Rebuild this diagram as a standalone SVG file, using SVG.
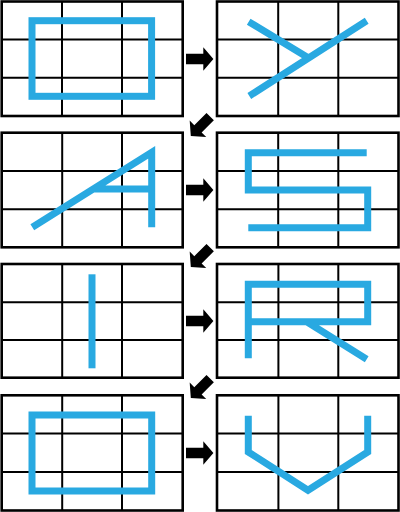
<svg xmlns="http://www.w3.org/2000/svg" xmlns:xlink="http://www.w3.org/1999/xlink" width="400" height="512" viewBox="0 0 400 512">
  <style>
    .frame { fill: #ffffff; stroke: #000000; stroke-width: 2.6; }
    .grid { stroke: #000000; stroke-width: 2; fill: none; }
    .glyph { fill: none; stroke: #29a9e1; stroke-width: 7; stroke-linecap: butt; stroke-linejoin: miter; stroke-miterlimit: 6; }
    .arrow { fill: #000000; stroke: none; }
  </style>
  <defs>
    <path id="arr" d="M-13.7,-5.2 H3.6 V-11.7 L13.7,0 L3.6,11.7 V5.2 H-13.7 Z"/>
  </defs>
  <rect width="400" height="512" fill="#ffffff"/>

  <!-- Panel 1: rectangle -->
  <g id="panel1">
    <rect class="frame" x="1.7" y="1.5" width="181" height="114.5"/>
    <path class="grid" d="M62,1.5 V116 M122,1.5 V116 M1.7,39.6 H182.7 M1.7,77.7 H182.7"/>
    <rect class="glyph" x="32" y="20.7" width="119.6" height="75.6"/>
  </g>

  <!-- Panel 2: Y -->
  <g id="panel2">
    <rect class="frame" x="217" y="1.5" width="181.5" height="114.5"/>
    <path class="grid" d="M278.2,1.5 V116 M338.3,1.5 V116 M217,39.6 H398.5 M217,77.7 H398.5"/>
    <path class="glyph" d="M248.7,21.7 L308.6,57.9 M249.3,96 L366.7,20.7"/>
  </g>

  <!-- Panel 3: A -->
  <g id="panel3">
    <rect class="frame" x="1.7" y="132.7" width="181" height="114.6"/>
    <path class="grid" d="M62.2,132.7 V247.3 M122,132.7 V247.3 M1.7,171 H182.7 M1.7,209.2 H182.7"/>
    <path class="glyph" d="M32.3,227.3 L151.7,152.4 L151.7,227.3 M94,189 H151.7"/>
  </g>

  <!-- Panel 4: S -->
  <g id="panel4">
    <rect class="frame" x="217" y="132.7" width="181.5" height="114.6"/>
    <path class="grid" d="M278.2,132.7 V247.3 M338.3,132.7 V247.3 M217,171 H398.5 M217,209.2 H398.5"/>
    <path class="glyph" d="M366.7,152.7 H248.3 V190 H367.7 V227.7 H248.3"/>
  </g>

  <!-- Panel 5: I -->
  <g id="panel5">
    <rect class="frame" x="1.7" y="264" width="181" height="113.7"/>
    <path class="grid" d="M62.2,264 V377.7 M122,264 V377.7 M1.7,302.2 H182.7 M1.7,340 H182.7"/>
    <path class="glyph" d="M92,274.3 V368.3"/>
  </g>

  <!-- Panel 6: R -->
  <g id="panel6">
    <rect class="frame" x="217" y="264" width="181.5" height="113.7"/>
    <path class="grid" d="M278.4,264 V377.7 M338.3,264 V377.7 M217,302.2 H398.5 M217,340 H398.5"/>
    <path class="glyph" d="M248.3,358.3 V284.3 H367.7 V321.7 H248.3 M306.7,321.7 L366.7,359.3"/>
  </g>

  <!-- Panel 7: rectangle -->
  <g id="panel7">
    <rect class="frame" x="1.7" y="395.3" width="181" height="115.2"/>
    <path class="grid" d="M62.2,395.3 V510.5 M122,395.3 V510.5 M1.7,433.5 H182.7 M1.7,471.9 H182.7"/>
    <rect class="glyph" x="32" y="415" width="119.7" height="76"/>
  </g>

  <!-- Panel 8: V -->
  <g id="panel8">
    <rect class="frame" x="217" y="395.3" width="181.5" height="115.2"/>
    <path class="grid" d="M278.4,395.3 V510.5 M338.3,395.3 V510.5 M217,433.5 H398.5 M217,471.9 H398.5"/>
    <path class="glyph" d="M248.3,415.7 V452 L308,490.3 L367.7,452 V415.7"/>
  </g>

  <!-- Connectors -->
  <g id="connectors">
    <use class="arrow" xlink:href="#arr" href="#arr" transform="translate(199.7,59)"/>
    <use class="arrow" xlink:href="#arr" href="#arr" transform="translate(200.5,126.3) rotate(135)"/>
    <use class="arrow" xlink:href="#arr" href="#arr" transform="translate(199.7,190)"/>
    <use class="arrow" xlink:href="#arr" href="#arr" transform="translate(200.5,257.3) rotate(135)"/>
    <use class="arrow" xlink:href="#arr" href="#arr" transform="translate(199.7,321)"/>
    <use class="arrow" xlink:href="#arr" href="#arr" transform="translate(200.5,388.3) rotate(135)"/>
    <use class="arrow" xlink:href="#arr" href="#arr" transform="translate(199.7,453)"/>
  </g>
</svg>
